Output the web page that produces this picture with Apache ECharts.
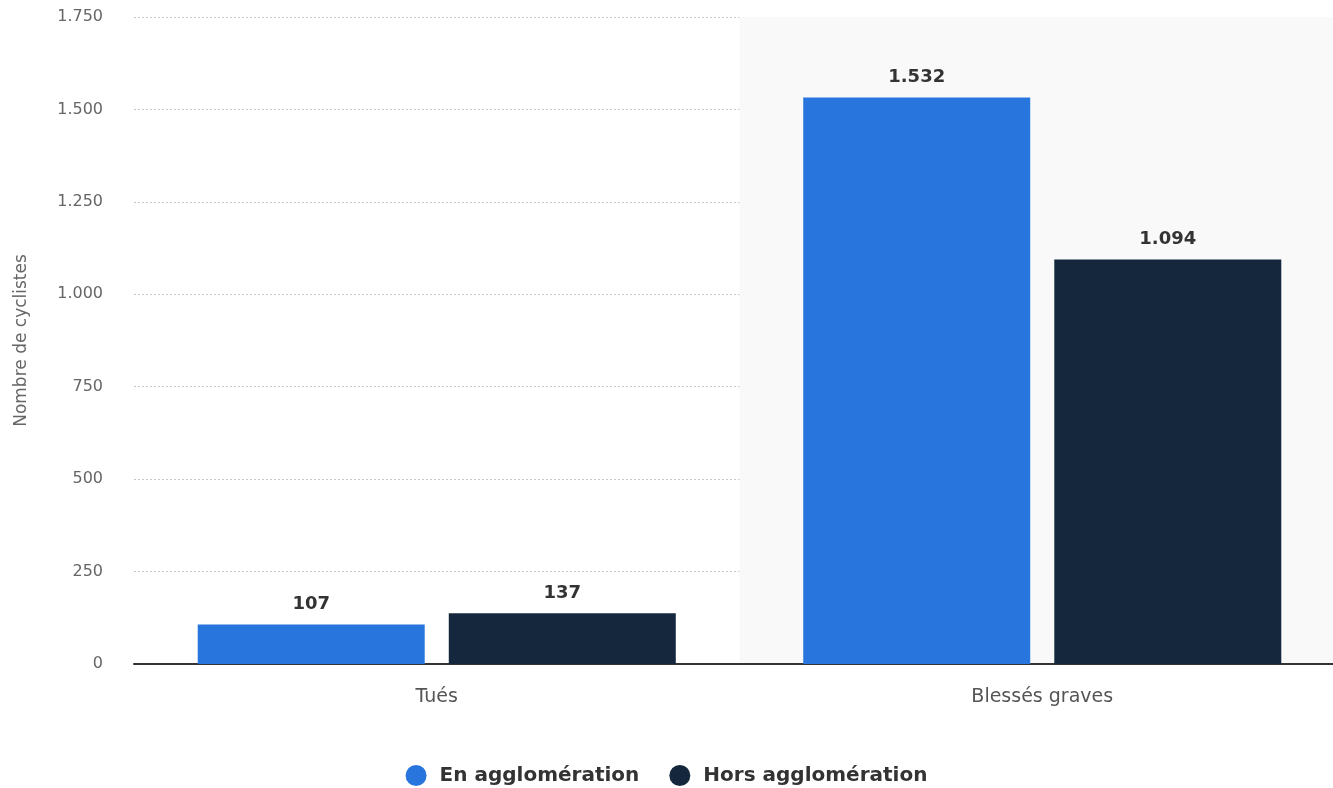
<!DOCTYPE html>
<html><head><meta charset="utf-8">
<script src="https://cdn.jsdelivr.net/npm/echarts@6/dist/echarts.min.js"></script>
<style>html,body{margin:0;padding:0;background:#fff}#c{width:1333px;height:788px}</style>
</head><body><div id="c"></div>
<script>
const categories = ['Tués', 'Blessés graves'];
const enAgglo = [107, 1532];
const horsAgglo = [137, 1094];
const seriesNames = ['En agglomération', 'Hors agglomération'];
const yTicks = {min: 0, max: 1750, interval: 250};

const fmt = v => String(v).replace(/\B(?=(\d{3})+(?!\d))/g, '.');
const chart = echarts.init(document.getElementById('c'));
const font = '"DejaVu Sans", "Noto Sans", sans-serif';
const lbl = {show: true, position: 'top', distance: 11, color: '#333', fontWeight: 'bold', fontSize: 18, fontFamily: font, formatter: p => fmt(p.value)};
chart.setOption({
  animation: false,
  grid: {left: 134, top: 17, bottom: 124, width: 1211, outerBoundsMode: 'none', containLabel: false},
  legend: {top: 760, left: 'center', icon: 'circle', itemWidth: 21, itemHeight: 21, itemGap: 30,
    textStyle: {fontSize: 20, fontWeight: 'bold', color: '#333', fontFamily: font, padding: [0, 0, 0, 8]}},
  xAxis: {type: 'category', data: categories,
    axisLine: {lineStyle: {color: '#333', width: 2}}, axisTick: {show: false},
    axisLabel: {color: '#555', fontSize: 19, margin: 24, fontFamily: font},
    splitArea: {show: true, areaStyle: {color: ['rgba(255,255,255,0)', '#f9f9f9']}}},
  yAxis: {type: 'value', min: yTicks.min, max: yTicks.max, interval: yTicks.interval,
    name: 'Nombre de cyclistes', nameLocation: 'middle', nameGap: 104, nameRotate: 90,
    nameTextStyle: {color: '#666', fontSize: 17, fontFamily: font},
    axisLabel: {color: '#666', fontSize: 16, margin: 31, fontFamily: font, formatter: v => fmt(v)},
    axisLine: {show: false}, axisTick: {show: false},
    splitLine: {lineStyle: {color: '#c8c8c8', type: [2, 2], width: 1}}},
  series: [
    {name: seriesNames[0], type: 'bar', data: enAgglo, barWidth: 227, barGap: '10.6%', itemStyle: {color: '#2876dd'}, label: lbl},
    {name: seriesNames[1], type: 'bar', data: horsAgglo, barWidth: 227, itemStyle: {color: '#14273c'}, label: lbl}
  ]
});
</script></body></html>
